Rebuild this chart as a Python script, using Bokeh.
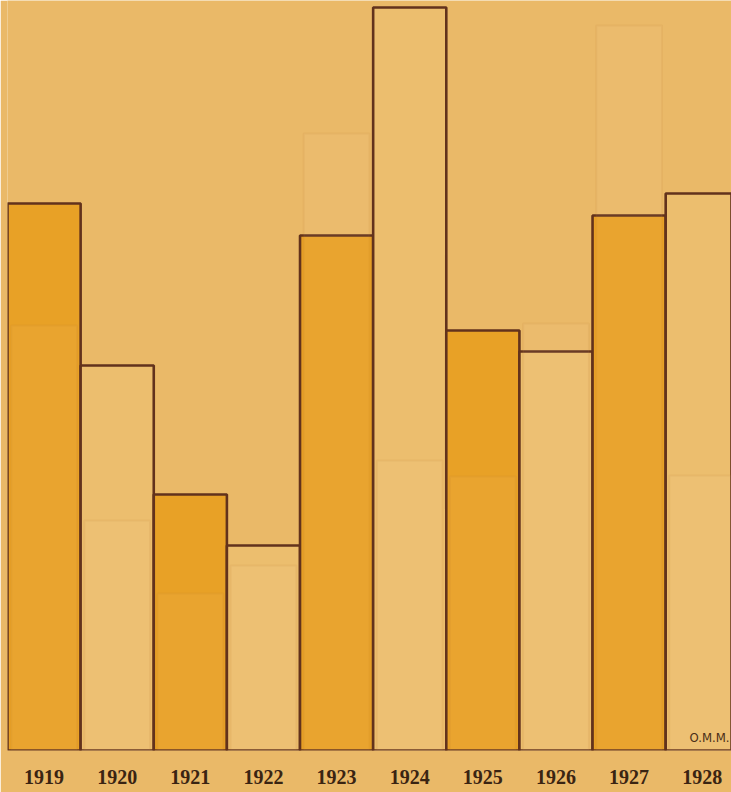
from bokeh.plotting import figure
from bokeh.models import Range1d, FixedTicker, Label, ColumnDataSource
from bokeh.embed import file_html
from bokeh.resources import INLINE

years = ["1919", "1920", "1921", "1922", "1923", "1924", "1925", "1926", "1927", "1928"]
values = [54.7, 38.5, 25.6, 20.5, 51.5, 74.3, 42.0, 39.9, 53.5, 55.7]
filled = [True, False, True, False, True, False, True, False, True, False]
# faint show-through marks from the reverse of the sheet
ghost = [42.5, 23.0, 15.7, 18.5, 61.7, 29.0, 27.4, 42.7, 72.5, 27.5]

BG = "#EAB968"
FILL_DARK = "#E8A126"
FILL_LIGHT = "#ECBE6E"
EDGE = "#62321C"

xs = [i + 0.5 for i in range(len(years))]
colors = [FILL_DARK if f else FILL_LIGHT for f in filled]
src = ColumnDataSource(dict(x=xs, top=values, color=colors, year=years))
gsrc = ColumnDataSource(dict(x=xs, top=ghost))

p = figure(width=731, height=792, output_backend="svg", toolbar_location=None,
           x_range=Range1d(0, 9.9), y_range=Range1d(0, 75.0),
           min_border_left=7, min_border_right=0, min_border_top=0, min_border_bottom=42)
p.background_fill_color = BG
p.border_fill_color = BG
p.outline_line_color = None
p.grid.visible = False
p.yaxis.visible = False

p.vbar(x="x", top="top", bottom=0, width=1.0, source=src,
       fill_color="color", line_color=EDGE, line_width=2.6)

p.vbar(x="x", top="top", bottom=0, width=0.9, source=gsrc,
       fill_color="#FFF4DC", fill_alpha=0.05, line_color="#B87A30", line_alpha=0.10,
       line_width=2)

ax = p.xaxis[0]
ax.ticker = FixedTicker(ticks=xs)
ax.major_label_overrides = {x: y for x, y in zip(xs, years)}
ax.axis_line_color = None
ax.major_tick_line_color = None
ax.minor_tick_line_color = None
ax.major_label_standoff = 13
ax.major_label_text_font = "Liberation Serif"
ax.major_label_text_font_style = "bold"
ax.major_label_text_font_size = "20px"
ax.major_label_text_color = "#3A2412"

p.add_layout(Label(x=9.9, y=0.6, x_offset=-2, text="O.M.M.", text_align="right",
                   text_baseline="bottom", text_font="DejaVu Sans Condensed",
                   text_font_size="13px", text_color="#4A2E18"))

open("out.html", "w").write(file_html(p, INLINE))
